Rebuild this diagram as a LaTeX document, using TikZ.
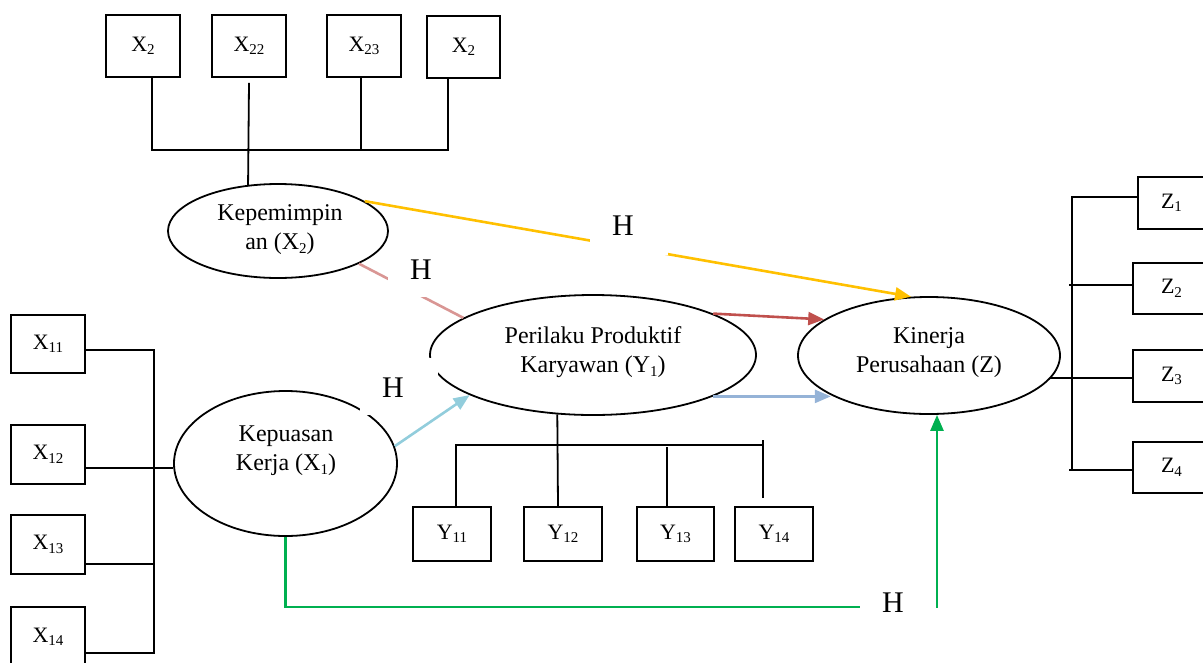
\documentclass[tikz,border=0pt]{standalone}
\usepackage{fontspec}
\setmainfont{Liberation Serif}
\usetikzlibrary{shapes.geometric,arrows.meta}
\newcommand\sbx[1]{\raisebox{-0.35ex}{\fontsize{15}{15}\selectfont #1}}
\definecolor{cyellow}{HTML}{FFC000}
\definecolor{cpink}{HTML}{D99694}
\definecolor{cred}{HTML}{C0504D}
\definecolor{csteel}{HTML}{95B3D7}
\definecolor{clblue}{HTML}{92CDDC}
\definecolor{cgreen}{HTML}{00B050}
\begin{document}
\begin{tikzpicture}[x=1pt,y=-1pt,
  box/.style={draw,line width=1.8pt,rectangle,inner sep=0pt,font=\fontsize{22}{22}\selectfont},
  ell/.style={draw,line width=1.8pt,ellipse,inner sep=0pt},
  etext/.style={align=center,font=\fontsize{24}{29}\selectfont,inner sep=0pt},
  link/.style={line width=1.8pt},
  hyp/.style={font=\fontsize{30}{30}\selectfont,inner sep=0pt},
  cover/.style={fill=white},
  carrow/.style={line width=2.6pt,-{Triangle[length=16pt,width=13pt]}},
  cline/.style={line width=2.6pt},
]
\useasboundingbox (0,0) rectangle (1203,662);

% top indicator boxes
\node[box,minimum width=74,minimum height=62] (xa1) at (143,46) {X\sbx{2}};
\node[box,minimum width=74,minimum height=62] (xa2) at (249,46) {X\sbx{22}};
\node[box,minimum width=74,minimum height=62] (xa3) at (364,46) {X\sbx{23}};
\node[box,minimum width=73,minimum height=62] (xa4) at (463.5,47) {X\sbx{2}};

% left indicator boxes
\node[box,minimum width=74,minimum height=58] (xl1) at (48,344) {X\sbx{11}};
\node[box,minimum width=74,minimum height=59] (xl2) at (48,454.5) {X\sbx{12}};
\node[box,minimum width=74,minimum height=59] (xl3) at (48,544.5) {X\sbx{13}};
\node[box,minimum width=74,minimum height=60] (xl4) at (48,637) {X\sbx{14}};

% bottom indicator boxes
\node[box,minimum width=78,minimum height=54] (y1) at (452,534) {Y\sbx{11}};
\node[box,minimum width=78,minimum height=54] (y2) at (563,534) {Y\sbx{12}};
\node[box,minimum width=77,minimum height=54] (y3) at (675.5,534) {Y\sbx{13}};
\node[box,minimum width=78,minimum height=54] (y4) at (774,534) {Y\sbx{14}};

% right indicator boxes
\node[box,minimum width=67,minimum height=52] (z1) at (1171.5,203) {Z\sbx{1}};
\node[box,minimum width=77,minimum height=51] (z2) at (1171.5,288.5) {Z\sbx{2}};
\node[box,minimum width=77,minimum height=52] (z3) at (1171.5,376) {Z\sbx{3}};
\node[box,minimum width=77,minimum height=51] (z4) at (1171.5,467.5) {Z\sbx{4}};

% latent variables
\node[ell,minimum width=220,minimum height=94] (kep) at (278,231) {};
\node[etext] (kept) at (280,230) {Kepemimpin\\an (X\sbx{2})};
\node[ell,minimum width=326,minimum height=120] (per) at (593,355) {};
\node[etext] (pert) at (593,352) {Perilaku Produktif\\Karyawan (Y\sbx{1})};
\node[ell,minimum width=223,minimum height=145] (kpu) at (285.5,463.5) {};
\node[etext] (kput) at (286,451) {Kepuasan\\Kerja (X\sbx{1})};
\node[ell,minimum width=262,minimum height=117] (kin) at (929,355.5) {};
\node[etext] (kint) at (929,353) {Kinerja\\Perusahaan (Z)};

% top connectors
\draw[link] ([xshift=9]xa1.south) -- ++(0,72) -| ([xshift=-15.5]xa4.south);
\draw[link] ([xshift=-3]xa3.south) -- ++(0,72);
\draw[link] ([yshift=-5]xa2.south) -- (kep.123.5);

% left connectors
\draw[link] ([yshift=-6]xl1.east) -- ++(68,0) |- ([yshift=-16]xl4.east);
\draw[link] ([yshift=-19.5]xl3.east) -- ++(68,0);
\draw[link] ([yshift=-13.5]xl2.east) -- ([yshift=-13.5]xl2.east -| kpu.west);

% bottom connectors
\draw[link] ([xshift=-5]y2.north) -- (per.239.2);
\draw[link] ([xshift=4]y1.north) -- ++(0,-61) -- ++(307,0);
\draw[link] ([xshift=-8.5]y3.north) -- ++(0,-59);
\draw[link] ([xshift=-11,yshift=8]y4.north) -- ++(0,-58);

% right connectors
\draw[link] ([yshift=6]z1.west) -- ++(-65,0) |- ([yshift=-2.5]z4.west);
\draw[link] ([yshift=-2.5]z4.west) -- ++(-63,0);
\draw[link] ([yshift=3.5]z2.west) -- ++(-63,0);
\draw[link] ([yshift=-2]z3.west) -- ([yshift=-2]z3.west -| kin.-11);

% hypothesis paths
\draw[carrow,cyellow] (kep.19) -- (kin.107);
\draw[cline,cpink] (kep.-22) -- (per.164.2);
\draw[carrow,cred] (per.19.3) -- (kin.161.1);
\draw[carrow,csteel] (per.-19) -- (per.-19 -| kin.202);
\draw[carrow,clblue] (kpu.9.6) -- (per.198.7);
\coordinate (gc) at (937,607);
\draw[carrow,cgreen] (kpu.south) |- (gc) -- (gc |- kin.south);

% label backgrounds
\fill[cover] (590,205) rectangle (668,255);
\fill[cover] (388,250) rectangle (455,297);
\fill[cover] (360,358) rectangle (438,415);
\fill[cover] (860,573) rectangle (936,640);

% hypothesis labels
\node[hyp] (h1) at (623,226) {H};
\node[hyp] (h2) at (421,270) {H};
\node[hyp] (h3) at (393,388) {H};
\node[hyp] (h4) at (893,603) {H};
\end{tikzpicture}
\end{document}
